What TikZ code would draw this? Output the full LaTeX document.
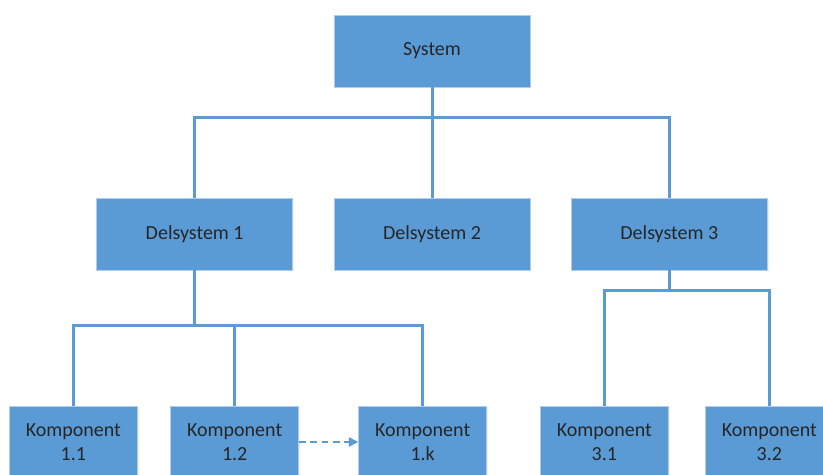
\documentclass[tikz,border=0pt]{standalone}
\usepackage{fontspec}
\setmainfont{Carlito}
\usetikzlibrary{positioning,arrows.meta,shadows}
\definecolor{boxblue}{HTML}{5B9BD5}
\definecolor{boxedge}{HTML}{B4CCE8}
\begin{document}
\begin{tikzpicture}[auto,on grid,node distance=137.25pt,
  main box/.style={rectangle,fill=boxblue,draw=boxedge,line width=0.6pt,
    minimum width=147pt,minimum height=54pt,font=\fontsize{15}{18}\selectfont,
    text=black!85,drop shadow={opacity=0.12,shadow xshift=1pt,shadow yshift=-1pt}},
  komp box/.style={main box,minimum width=96pt,align=center},
  link/.style={draw=boxblue,line width=2.25pt},
  next/.style={draw=boxblue,line width=1.1pt,dash pattern=on 5pt off 3.5pt,-{Triangle[length=7pt,width=7pt]}}]

  \useasboundingbox (0,0) rectangle (617.25pt,-355.5pt);

  \node[main box] (sys) at (324pt,-38.25pt) {System};
  \node[main box] (d2) [below of=sys] {Delsystem 2};
  \node[main box] (d1) [left=178pt of d2] {Delsystem 1};
  \node[main box] (d3) [right=178pt of d2] {Delsystem 3};

  \node[komp box] (k11) [below left=156pt and 91pt of d1] {Komponent\\1.1};
  \node[komp box] (k12) [below right=156pt and 30pt of d1] {Komponent\\1.2};
  \node[komp box] (k1k) [right=141pt of k12] {Komponent\\1.k};
  \node[komp box] (k31) [below left=156pt and 48.75pt of d3] {Komponent\\3.1};
  \node[komp box] (k32) [right=123.75pt of k31] {Komponent\\3.2};

  \path (sys.south) ++(0,-22.5pt) coordinate (b0);
  \path (d1.south) ++(0,-41.25pt) coordinate (b1);
  \path (d3.south) ++(0,-15pt) coordinate (b3);

  \draw[link] (sys.south) -- (b0) -| (d1.north);
  \draw[link] (b0) -| (d3.north);
  \draw[link] (b0) -- (d2.north);

  \draw[link] (d1.south) -- (b1) -| (k11.north);
  \draw[link] (b1) -| (k12.north);
  \draw[link] (b1) -| (k1k.north);

  \draw[link] (d3.south) -- (b3) -| (k31.north);
  \draw[link] (b3) -| (k32.north);

  \draw[next] (k12) -- (k1k);
\end{tikzpicture}
\end{document}
